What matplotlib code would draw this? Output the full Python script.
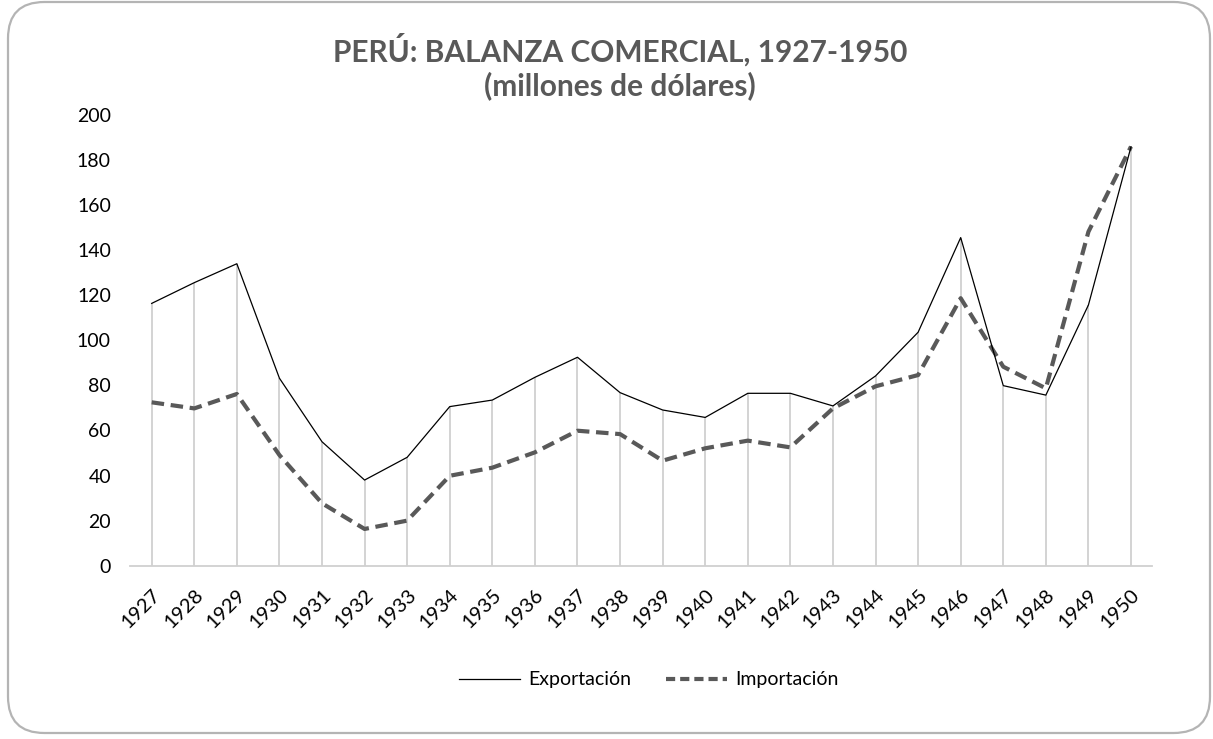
import matplotlib
matplotlib.use("Agg")
import matplotlib.pyplot as plt
from matplotlib.patches import FancyBboxPatch
from matplotlib.lines import Line2D

years = ["1927", "1928", "1929", "1930", "1931", "1932", "1933", "1934", "1935", "1936",
         "1937", "1938", "1939", "1940", "1941", "1942", "1943", "1944", "1945", "1946",
         "1947", "1948", "1949", "1950"]
exportacion = [116.4, 125.6, 134.0, 83.2, 55.0, 38.0, 48.1, 70.6, 73.5, 83.6,
               92.5, 76.8, 69.1, 65.8, 76.5, 76.5, 70.9, 84.2, 103.6, 145.6,
               79.9, 75.7, 115.7, 185.9]
importacion = [72.5, 69.8, 76.2, 49.1, 27.7, 16.3, 20.0, 39.9, 43.5, 50.3,
               59.9, 58.4, 46.6, 52.1, 55.5, 52.5, 69.8, 79.6, 84.6, 118.7,
               88.3, 78.7, 148.2, 186.0]
yticks = [0, 20, 40, 60, 80, 100, 120, 140, 160, 180, 200]

plt.rcParams['font.family'] = ['Lato', 'DejaVu Sans']

W, H = 1213, 739
fig = plt.figure(figsize=(W / 100, H / 100), dpi=100)

# rounded chart border
border = FancyBboxPatch((8 / W, 6 / H), (1202 / W), (731 / H),
                        boxstyle="round,pad=0,rounding_size=0.03",
                        transform=fig.transFigure, facecolor='none',
                        edgecolor='#b4b4b4', linewidth=1.6, zorder=-1,
                        mutation_aspect=W / H)
fig.patches.append(border)

left, right, bottom, top = 130.4, 1152.3, 565.7, 115.0
ax = fig.add_axes([left / W, 1 - bottom / H, (right - left) / W, (bottom - top) / H])
ax.set_facecolor('none')

x = list(range(len(years)))
ax.vlines(x, 0, exportacion, color='#d0d0d0', linewidth=1.3, zorder=1)
ax.plot(x, exportacion, color='#000000', linewidth=0.9, zorder=3, label='Exportación')
ax.plot(x, importacion, color='#595959', linewidth=3.0, linestyle=(0, (3, 1.6)),
        zorder=2, label='Importación')

ax.set_xlim(-0.5, len(years) - 0.5)
ax.set_ylim(0, 200)
ax.set_yticks(yticks)
ax.set_yticklabels([str(v) for v in yticks], fontsize=14, color='#000000')
ax.set_xticks(x)
ax.set_xticklabels(years, fontsize=14.5, color='#000000', rotation=45,
                   ha='right', va='top', rotation_mode='anchor')
ax.tick_params(axis='y', length=0, pad=14)
ax.tick_params(axis='x', length=0, pad=15)
for s in ['left', 'right', 'top']:
    ax.spines[s].set_visible(False)
ax.spines['bottom'].set_color('#d0d0d0')
ax.spines['bottom'].set_linewidth(1.3)

fig.text(620 / W, 1 - 50 / H, "PERÚ: BALANZA COMERCIAL, 1927-1950",
         ha='center', va='center', fontsize=21.5, fontweight='bold', color='#595959')
fig.text(620 / W, 1 - 86 / H, "(millones de dólares)",
         ha='center', va='center', fontsize=21.5, fontweight='bold', color='#595959')

handles = [Line2D([], [], color='#000000', linewidth=0.9),
           Line2D([], [], color='#595959', linewidth=3.0, linestyle=(0, (2.2, 1.2)))]
fig.legend(handles, ['Exportación', 'Importación'], loc='center',
           bbox_to_anchor=(649 / W, 1 - 680 / H), ncol=2, frameon=False,
           fontsize=14, handlelength=3.1, columnspacing=1.8, handletextpad=0.45)

fig.savefig('out.png', dpi=100)
